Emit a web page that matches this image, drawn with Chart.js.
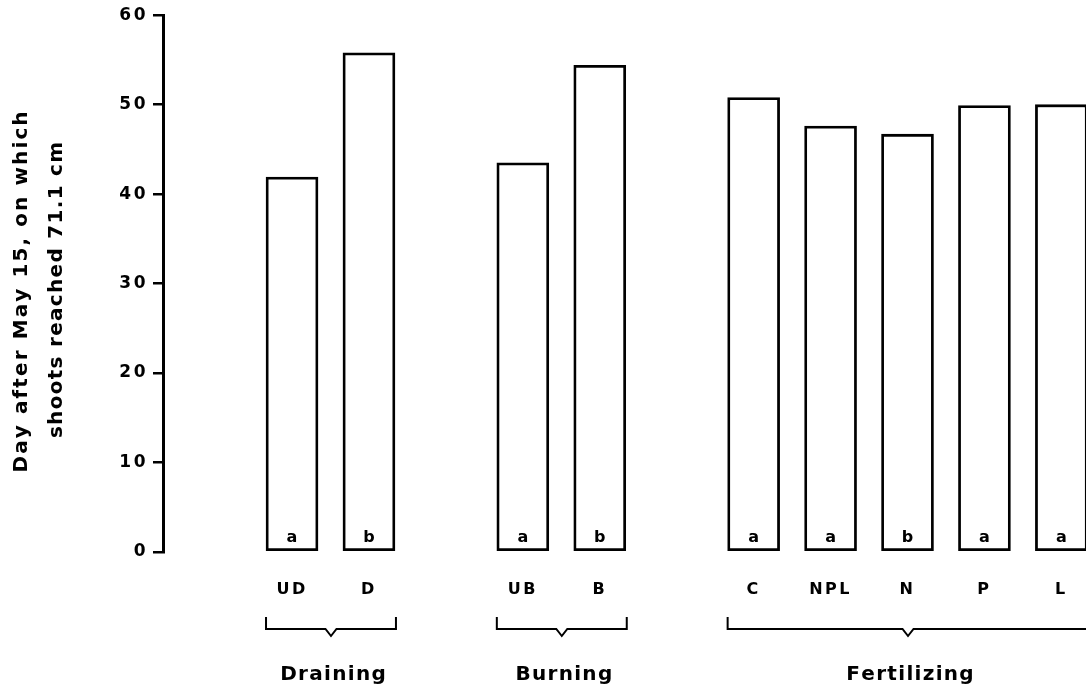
<!DOCTYPE html>
<html>
<head>
<meta charset="utf-8">
<script src="https://cdn.jsdelivr.net/npm/chart.js@4/dist/chart.umd.min.js"></script>
<style>
  html, body { margin: 0; padding: 0; background: #fff; overflow: hidden; }
  #wrap { width: 1086px; height: 686px; }
</style>
</head>
<body>
<div id="wrap"><canvas id="c"></canvas></div>
<script>
// Treatments, their group, days until shoots reached 71.1 cm, and significance letters
const treatments = ['UD', 'D', 'UB', 'B', 'C', 'NPL', 'N', 'P', 'L'];
const treatmentGroup = ['Draining', 'Draining', 'Burning', 'Burning',
  'Fertilizing', 'Fertilizing', 'Fertilizing', 'Fertilizing', 'Fertilizing'];
const daysToHeight = [41.9, 55.8, 43.5, 54.4, 50.8, 47.6, 46.7, 49.9, 50.0];
const significance = ['a', 'b', 'a', 'b', 'a', 'a', 'b', 'a', 'a'];
const groups = ['Draining', 'Burning', 'Fertilizing'];
const yTicks = [0, 10, 20, 30, 40, 50, 60];
const yTitle = ['Day after May 15, on which', 'shoots reached 71.1 cm'];

const FONT = '"DejaVu Sans", "Liberation Sans", Arial, sans-serif';

// x position of each treatment: one empty slot left between groups
const slots = treatments.map((t, i) => i + groups.indexOf(treatmentGroup[i]));

// draw text character by character with extra tracking, centred on cx
function spaced(ctx, text, cx, y, spacing) {
  const chars = [...text];
  const widths = chars.map(ch => ctx.measureText(ch).width);
  const total = widths.reduce((a, b) => a + b, 0) + spacing * (chars.length - 1);
  let x = cx - total / 2;
  ctx.textAlign = 'left';
  chars.forEach((ch, i) => { ctx.fillText(ch, x, y); x += widths[i] + spacing; });
}

const annotations = {
  id: 'annotations',
  beforeDraw(chart) {
    const ctx = chart.ctx;
    if ('letterSpacing' in ctx) ctx.letterSpacing = '2.5px';
  },
  afterDraw(chart) {
    const ctx = chart.ctx;
    const ys = chart.scales.y;
    const y0 = ys.getPixelForValue(0);
    const bars = chart.getDatasetMeta(0).data;
    ctx.save();
    if ('letterSpacing' in ctx) ctx.letterSpacing = '0px';
    ctx.fillStyle = '#000';
    ctx.textBaseline = 'alphabetic';

    // significance letters at the foot of each bar
    ctx.font = 'bold 16px ' + FONT;
    ctx.textAlign = 'center';
    bars.forEach((b, i) => ctx.fillText(significance[i], b.x, y0 - 10));

    // group brackets and names
    ctx.strokeStyle = '#000';
    ctx.lineWidth = 2;
    ctx.lineJoin = 'miter';
    groups.forEach(g => {
      const idx = treatments.map((t, i) => i).filter(i => treatmentGroup[i] === g);
      const first = bars[idx[0]], last = bars[idx[idx.length - 1]];
      const left = first.x - first.width / 2;
      const right = last.x + last.width / 2 + 1;
      const mid = (left + right) / 2;
      const top = y0 + 65, base = y0 + 77, tip = y0 + 84;
      ctx.beginPath();
      ctx.moveTo(left, top);
      ctx.lineTo(left, base);
      ctx.lineTo(mid - 5.5, base);
      ctx.lineTo(mid, tip);
      ctx.lineTo(mid + 5.5, base);
      ctx.lineTo(right, base);
      ctx.lineTo(right, top);
      ctx.stroke();
      ctx.font = 'bold 20px ' + FONT;
      spaced(ctx, g, mid + 2, y0 + 128, 1.3);
    });

    // rotated two-line axis title
    ctx.save();
    ctx.translate(0, 292);
    ctx.rotate(-Math.PI / 2);
    ctx.font = 'bold 20px ' + FONT;
    spaced(ctx, yTitle[0], 0, 27, 2.1);
    spaced(ctx, yTitle[1], 2, 62, 1.3);
    ctx.restore();

    ctx.restore();
  }
};

new Chart(document.getElementById('c'), {
  type: 'bar',
  data: {
    datasets: [{
      data: slots.map((s, i) => ({ x: s, y: daysToHeight[i] })),
      backgroundColor: '#fff',
      borderColor: '#000',
      borderWidth: 2.8,
      borderSkipped: false,
      barThickness: 52
    }]
  },
  options: {
    responsive: true,
    maintainAspectRatio: false,
    animation: false,
    layout: { padding: { left: 0, right: 0, top: 15, bottom: 0 } },
    plugins: { legend: { display: false }, tooltip: { enabled: false } },
    scales: {
      x: {
        type: 'linear',
        offset: false,
        min: -1.677,
        max: 10.32,
        grid: { display: false, drawTicks: false },
        border: { display: false },
        afterBuildTicks: s => { s.ticks = slots.map(v => ({ value: v })); },
        afterFit: s => { s.height = 134; s.paddingLeft = 0; s.paddingRight = 0; },
        ticks: {
          autoSkip: false,
          maxRotation: 0,
          padding: 28,
          color: '#000',
          font: { family: FONT, size: 16, weight: 'bold' },
          callback: v => { const i = slots.indexOf(v); return i >= 0 ? treatments[i] : ''; }
        }
      },
      y: {
        min: 0,
        max: 60,
        afterBuildTicks: s => { s.ticks = yTicks.map(v => ({ value: v })); },
        afterFit: s => { s.width = 163; },
        ticks: {
          padding: 5,
          color: '#000',
          font: { family: FONT, size: 17, weight: 'bold' }
        },
        grid: { drawOnChartArea: false, tickLength: 10, color: '#000', lineWidth: 2.5 },
        border: { display: true, color: '#000', width: 3 }
      }
    }
  },
  plugins: [annotations]
});
</script>
</body>
</html>
